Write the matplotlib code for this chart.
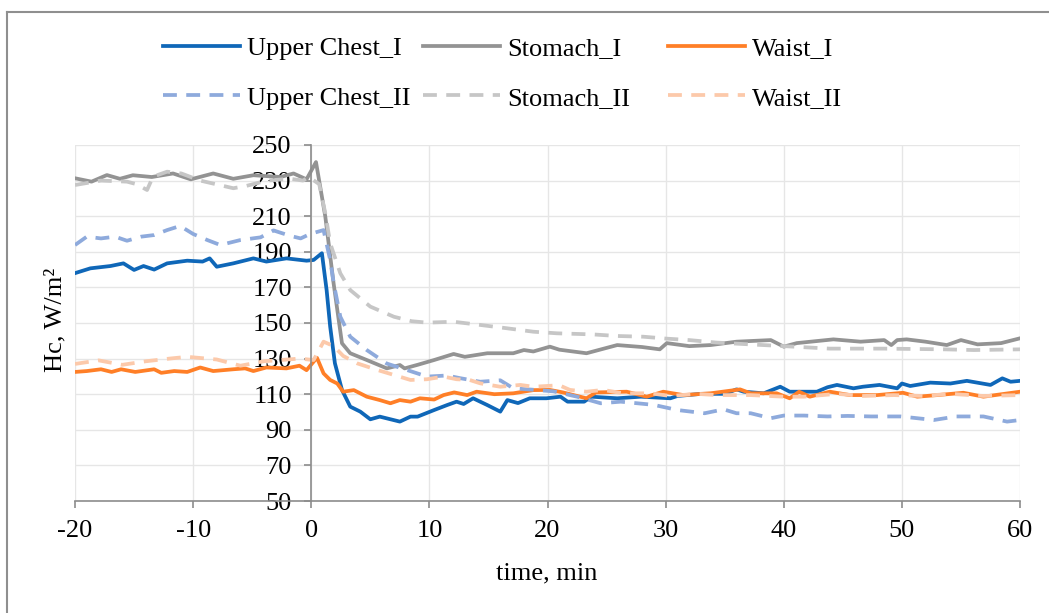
import matplotlib.pyplot as plt
from matplotlib.lines import Line2D

plt.rcParams['font.family'] = ['Liberation Serif', 'DejaVu Serif']

# readings, one (time, value) list per series
uc1_t = [-20, -18.7, -17, -15.9, -15, -14.2, -13.3, -12.2, -10.5, -9.2, -8.6, -8, -6.6, -4.9, -3.8, -2.1, -0.4, 0.2,
         0.9, 1.3, 1.6, 2.0, 2.6, 3.3, 4.15, 5.0, 5.8, 7.5, 8.4, 9.0, 10.4, 11.5, 12.3, 12.9, 13.7, 14.9, 16.0, 16.6,
         17.5, 18.5, 19.9, 21.1, 21.7, 23.1, 23.7, 25.9, 27.9, 30.4, 31, 33, 35, 36, 36.6, 38.3, 39.7, 40.5, 42.8,
         43.7, 44.5, 45.9, 46.7, 48.1, 49.6, 50, 50.7, 52.4, 54.1, 55.5, 57.5, 58.5, 59.2, 60]
uc1_v = [178, 180.7, 182, 183.5, 179.8, 182, 180, 183.5, 185, 184.5, 186.3, 181.6, 183.5, 186.3, 184.5, 186.3, 185,
         185.4, 189.2, 168.5, 148, 127.4, 112.4, 103, 100.2, 95.9, 97.4, 94.6, 97.4, 97.4, 101.1, 103.9, 105.8, 104.5,
         107.7, 103.9, 100.2, 106.7, 105, 107.7, 107.7, 108.6, 105.8, 105.8, 108.6, 107.7, 108.6, 107.7, 109, 110.2,
         110.2, 112.7, 111.4, 110.5, 114.2, 111.4, 111.4, 113.9, 115.2, 113.3, 114.2, 115.2, 113.3, 116, 114.6, 116.5,
         116, 117.5, 115.2, 118.9, 117, 117.5]

st1_t = [-20, -18.6, -17.3, -16.2, -15.1, -13.5, -11.7, -10.2, -8.3, -6.6, -4.9, -2.6, -1.5, -0.4, 0.4, 1.19, 1.89,
         2.6, 3.3, 4.7, 6.4, 7.0, 7.5, 7.9, 9, 10.4, 12.05, 13, 14.9, 17.1, 18, 18.8, 20.2, 21, 23.3, 25.9, 28, 29.5,
         30.1, 32, 33.8, 36, 38.9, 40, 41.1, 44.2, 46.5, 48.5, 49.1, 49.6, 50.4, 52, 53.8, 55, 56.4, 58.4, 60]
st1_v = [231.3, 229.4, 233.1, 231, 233, 232, 234, 230.7, 234, 231, 233, 232, 234, 230.7, 240.4, 209.7, 172.3, 138.6,
         133, 129.2, 124.5, 125.5, 126.4, 124.5, 126.5, 129.2, 132.6, 131, 133, 133, 134.8, 134, 136.7, 135, 133,
         137.6, 136.5, 135.2, 138.7, 137, 137.6, 139.5, 140.4, 136.7, 138.7, 140.8, 139.5, 140.4, 137.6, 140.4, 140.8,
         139.5, 137.6, 140.4, 138, 138.7, 141.4]

w1_t = [-20, -19, -17.8, -16.9, -16.1, -14.9, -13.3, -12.7, -11.6, -10.5, -9.4, -8.3, -6.6, -5.6, -4.9, -3.8, -2.1,
        -1, -0.4, 0.48, 1.04, 1.6, 2.2, 2.7, 3.6, 4.7, 5.8, 6.7, 7.5, 8.4, 9.2, 10.4, 11.2, 12.1, 13.2, 14, 15.5,
        17.1, 18.8, 20.2, 21.3, 23.3, 24.1, 26.7, 28.4, 29.8, 31.5, 33.8, 36.3, 37.2, 39.4, 40.5, 41.3, 42.2, 43.9,
        45.6, 47.9, 50.1, 51.3, 53, 55.2, 56.9, 60]
w1_v = [122.5, 123, 124, 122.5, 124, 122.5, 124, 122, 123, 122.5, 125, 123, 124, 124.5, 123, 125, 124.5, 126, 123.5,
        130.5, 121.7, 118, 116, 111.4, 112.3, 108.6, 106.7, 104.9, 106.7, 105.8, 107.7, 107, 109.5, 111, 109.5, 111.4,
        110, 110.5, 112.3, 112.4, 111, 107.7, 111, 111.4, 108.6, 111.4, 109.5, 110.5, 112.7, 110.5, 110.5, 107.7, 111.4,
        108.6, 111.4, 109.5, 109.5, 110.8, 108.6, 109.5, 110.8, 108.6, 111.4]

uc2_t = [-20, -19, -17.8, -16.6, -15.6, -14.4, -13.3, -12.2, -11.1, -10, -8.8, -7.7, -6, -4.3, -3.2, -1.8, -0.9, -0.1,
         1.04, 1.6, 1.9, 2.46, 3.3, 4.7, 6.4, 8.1, 9.8, 11.5, 12.6, 14.3, 16, 17.1, 18.8, 20.5, 22.5, 24.5, 26.2, 29,
         31, 33.3, 34.9, 36, 37.2, 38.9, 40, 41.7, 43.7, 45.4, 47.4, 49.9, 52.7, 54.6, 56.9, 58.9, 60]
uc2_v = [193.8, 198.5, 197.5, 198.5, 196.2, 198.5, 199.4, 202.2, 204.5, 200, 196.6, 193.8, 196.6, 198.1, 202, 199,
         197.5, 200, 202.2, 185.4, 172.3, 153.5, 142.3, 134.8, 127.2, 123.6, 119.9, 120.5, 119, 117, 117.8, 113.3,
         112.5, 111.6, 108.6, 104.9, 105.8, 104, 101.1, 99.3, 101.5, 99.3, 99.3, 96.5, 98, 98, 97.5, 97.8, 97.5, 97.5,
         95.5, 97.5, 97.5, 94.6, 95.5]

st2_t = [-20, -17.8, -15.6, -14.8, -13.9, -13.4, -12.2, -11, -9.4, -6.6, -5.5, -3.75, -1.8, -0.7, -0.2, 0.67, 1.19,
         1.6, 2.46, 3.3, 5.0, 7.0, 8.5, 9.8, 12.05, 14.3, 16.6, 18.8, 20.8, 23.8, 25.9, 28.1, 30.1, 32, 34.3, 37.1, 40,
         43.9, 48.5, 53.6, 56.1, 60]
st2_v = [227.5, 230, 229.4, 228, 224.7, 232.2, 235, 234, 230, 225.7, 227, 230, 231, 230, 232, 228, 211.6, 194.8,
         177.9, 168.5, 159.2, 153.5, 151, 150.2, 150.7, 148.9, 147, 145.1, 144.2, 143.6, 142.7, 142.3, 141.2, 140.4,
         139, 138, 137, 135.6, 135.6, 135.2, 134.8, 135.2]

w2_t = [-20, -18, -16, -14, -12, -10.5, -8, -6, -4, -2, -1, 0.2, 1.04, 1.9, 2.7, 3.9, 5.6, 7.0, 8.4, 9.8, 11.2, 12.3,
        13.4, 14.3, 16, 17.7, 18.8, 21, 21.9, 23.3, 24.7, 26.4, 28.7, 30.4, 32.6, 34.3, 37.2, 40, 41.7, 44.5, 46.7,
        49.3, 51.8, 54.1, 56.9, 60]
w2_v = [127, 129, 126.5, 128.5, 130, 131, 129.5, 126, 128.5, 129.5, 130, 129.2, 139.5, 137, 131.5, 127.3, 123.6,
        120.8, 118, 118.4, 119.9, 118.4, 118, 116.1, 114.2, 115.2, 114.2, 115, 112.4, 111.4, 112.4, 110.5, 110.5, 109,
        110.2, 109.5, 109.5, 108.6, 108.6, 110.2, 109, 109.5, 109, 110.2, 109, 109.5]

x_ticks = [-20, -10, 0, 10, 20, 30, 40, 50, 60]
y_ticks = [50, 70, 90, 110, 130, 150, 170, 190, 210, 230, 250]

fs = 19

fig = plt.figure(figsize=(10.49, 6.13), dpi=100)
ax = fig.add_axes([0.0715, 0.1827, 0.9009, 0.5808])

for v in y_ticks:
    ax.axhline(v, color='#e6e6e6', lw=1, zorder=0)
for t in x_ticks:
    ax.axvline(t, color='#e6e6e6', lw=1, zorder=0)

lw = 2.7
dash = (0, (3.7, 2.5))
l1, = ax.plot(uc1_t, uc1_v, color='#0f67b8', lw=lw, label='Upper Chest_I')
l2, = ax.plot(st1_t, st1_v, color='#939393', lw=lw, label='Stomach_I')
l3, = ax.plot(w1_t, w1_v, color='#ff7f27', lw=lw, label='Waist_I')
l4, = ax.plot(uc2_t, uc2_v, color='#8eaadc', lw=lw, ls=dash, label='Upper Chest_II')
l5, = ax.plot(st2_t, st2_v, color='#c6c6c6', lw=lw, ls=dash, label='Stomach_II')
l6, = ax.plot(w2_t, w2_v, color='#fcc9aa', lw=lw, ls=dash, label='Waist_II')

ax.set_xlim(-20, 60)
ax.set_ylim(50, 250)
ax.set_xticks(x_ticks)
ax.set_yticks(y_ticks)
ax.set_xticklabels([str(t) for t in x_ticks])
ax.spines['left'].set_position(('data', 0))
for s in ['top', 'right']:
    ax.spines[s].set_visible(False)
for s in ['left', 'bottom']:
    ax.spines[s].set_color('#8c8c8c')
    ax.spines[s].set_linewidth(1.2)
ax.tick_params(axis='both', colors='#8c8c8c', labelcolor='black', labelsize=fs, length=5, width=1.2)
ax.tick_params(axis='y', pad=9)
ax.tick_params(axis='x', pad=9)

fig.text(0.0525, 0.478, 'Hc, W/m²', rotation=90, ha='center', va='center', fontsize=fs)
fig.text(0.5215, 0.065, 'time, min', ha='center', va='center', fontsize=fs)

# legend: one column block per body site
cols = [([l1, l4], 163), ([l2, l5], 423), ([l3, l6], 668)]
for handles, xpx in cols:
    leg = fig.legend(handles=handles, loc='upper left', bbox_to_anchor=(xpx / 1049, 1 - 37 / 613),
                     frameon=False, fontsize=fs, handlelength=2.9, handletextpad=0.3,
                     labelspacing=0.97, borderpad=0, borderaxespad=0)

# outer chart frame (top and left edges visible)
fig.add_artist(Line2D([7 / 1049, 7 / 1049], [0, 1 - 12 / 613], color='#8f8f8f', lw=1.5))
fig.add_artist(Line2D([7 / 1049, 1], [1 - 12 / 613, 1 - 12 / 613], color='#8f8f8f', lw=1.5))

fig.savefig('out.png', dpi=100)
